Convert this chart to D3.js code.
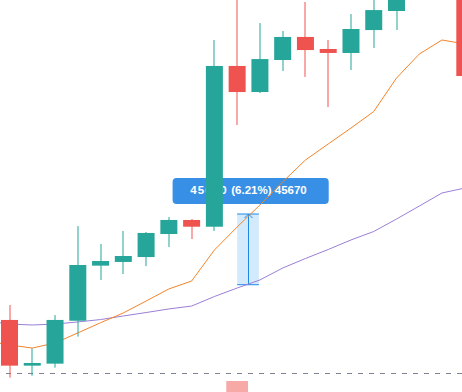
<!DOCTYPE html>
<html>
<head>
<meta charset="utf-8">
<script src="https://cdn.jsdelivr.net/npm/d3@7"></script>
<style>
  html, body { margin: 0; padding: 0; background: #fff; overflow: hidden; }
  svg { display: block; }
  .tip { font-family: 'Liberation Sans', Arial, sans-serif; font-size: 11.5px; font-weight: bold; }
</style>
</head>
<body>
<svg id="chart" width="462" height="392"></svg>
<script>
// candles by index: [open, high, low, close]; 18 and 19 sit above the visible area
const opens = [41670, 39945, 40020, 41640, 43720, 43860, 44045, 44915, 45445, 45190, 51260, 50275, 51485, 52355, 51900, 51750, 52615, 53335, 54300, 54900, 55400]
const highs = [42235, 40600, 41855, 45215, 44540, 45030, 44990, 45555, 45480, 52240, 54100, 52880, 52580, 53675, 52240, 53220, 54050, 54700, 55300, 55800, 55700]
const lows = [39490, 39565, 39870, 41040, 43180, 43405, 43705, 44425, 44725, 45030, 49030, 50240, 51070, 50845, 49710, 51105, 51940, 52615, 54000, 54600, 50600]
const closes = [39945, 40045, 41670, 43745, 43895, 44085, 44955, 45445, 45190, 51260, 50275, 51520, 52355, 51860, 51750, 52655, 53370, 54300, 54900, 55500, 50880]

// moving averages, starting one bar left of the first visible candle (index -1)
const maFast = [40875, 40725, 40610, 40800, 41180, 41565, 41935, 42385, 42840, 43140, 44310, 45180, 46010, 46880, 47710, 48315, 48915, 49540, 50805, 51710, 52240, 52090]
const maSlow = [41630, 41515, 41480, 41515, 41595, 41685, 41820, 41950, 42085, 42195, 42555, 42875, 43180, 43630, 43990, 44330, 44690, 45010, 45480, 45970, 46465, 46650]

const priceLine = 39655
const volumes = [{ i: 10, v: 990 }]

// price range measurement from bar 10 to bar 11
const rangeFrom = 43000
const rangeTo = 45670
const rangeStart = 10
const rangeEnd = 11
const rangeParts = ['45670', '(6.21%) 45670']

const W = 462
const H = 392
const UP = '#26a69a'
const DOWN = '#ef5350'

const x = d3.scaleLinear().domain([0, 20]).range([9.5, 464.8])
const y = d3.scaleLinear().domain([38950, 53750]).range([H, 0])
const yVol = d3.scaleLinear().domain([0, 1000]).range([480, 380])
const step = x(1) - x(0)
const bodyW = 17

const svg = d3.select('#chart')

/** Dashed price line near the bottom */
svg.append('line')
  .attr('x1', 6).attr('x2', W)
  .attr('y1', Math.round(y(priceLine)) + 0.5).attr('y2', Math.round(y(priceLine)) + 0.5)
  .attr('stroke', '#7b8594').attr('stroke-dasharray', '5,6')

svg.selectAll('rect.vol')
  .data(volumes).enter().append('rect').classed('vol', true)
  .attr('x', d => x(d.i) - (step - 1) / 2)
  .attr('width', step - 1)
  .attr('y', d => yVol(d.v))
  .attr('height', d => 480 - yVol(d.v))
  .attr('fill', DOWN).attr('fill-opacity', 0.5)

/** Measurement overlay: shaded box, arrow, label */
const mx0 = x(rangeStart)
const mx1 = x(rangeEnd) - 1
const mTop = y(rangeTo)
const mBot = y(rangeFrom)
const mMid = Math.round((mx0 + mx1) / 2) + 0.5
const overlay = svg.append('g')
overlay.append('rect')
  .attr('x', mx0).attr('y', mTop).attr('width', mx1 - mx0).attr('height', mBot - mTop)
  .attr('fill', '#2196f3').attr('fill-opacity', 0.2)
overlay.selectAll('line.edge')
  .data([mTop, mBot]).enter().append('line').classed('edge', true)
  .attr('x1', mx0).attr('x2', mx1)
  .attr('y1', d => d).attr('y2', d => d)
  .attr('stroke', '#1e88e5')
overlay.append('line')
  .attr('x1', mMid).attr('x2', mMid).attr('y1', mTop).attr('y2', mBot)
  .attr('stroke', '#1e88e5')
overlay.append('path')
  .attr('d', `M${mMid - 4},${mTop + 4}L${mMid},${mTop}L${mMid + 4},${mTop + 4}`)
  .attr('fill', 'none').attr('stroke', '#1e88e5')

const tip = overlay.append('g')
const tipRect = tip.append('rect').attr('rx', 4).attr('fill', '#3890e6')
const tipText = tip.append('text').classed('tip', true)
  .attr('y', mTop - 20).attr('fill', '#fff')
const firstW = 37.8
const first = tipText.append('tspan').text(rangeParts[0])
  .attr('textLength', firstW - 1.4).attr('lengthAdjust', 'spacing')
const rest = tipText.append('tspan').text(' ' + rangeParts[1])
const restW = rest.node().getComputedTextLength()
const textX = mMid - (firstW + restW) / 2
first.attr('x', textX)
rest.attr('x', textX + firstW)
tipRect
  .attr('x', textX - 17.7).attr('width', firstW + restW + 39.7)
  .attr('y', mTop - 36).attr('height', 26)

/** MA lines */
const maLine = d3.line().x((d, i) => x(i - 1)).y(d => y(d))
svg.append('path').datum(maSlow)
  .attr('d', maLine).attr('fill', 'none').attr('stroke', '#9b7fd6').attr('stroke-width', 1)
svg.append('path').datum(maFast)
  .attr('d', maLine).attr('fill', 'none').attr('stroke', '#f5842a').attr('stroke-width', 1)

/** Candles */
const bars = opens.map((o, i) => ({ i, o, h: highs[i], l: lows[i], c: closes[i] }))
const candle = svg.selectAll('g.candle')
  .data(bars).enter().append('g').classed('candle', true)
  .attr('fill', d => d.c >= d.o ? UP : DOWN)
candle.append('rect')
  .attr('x', d => Math.round(x(d.i)) - 0.5)
  .attr('width', 1)
  .attr('y', d => y(d.h))
  .attr('height', d => y(d.l) - y(d.h))
candle.append('rect')
  .attr('x', d => x(d.i) - bodyW / 2)
  .attr('width', bodyW)
  .attr('y', d => y(Math.max(d.o, d.c)))
  .attr('height', d => Math.max(1, Math.abs(y(d.o) - y(d.c))))
</script>
</body>
</html>
